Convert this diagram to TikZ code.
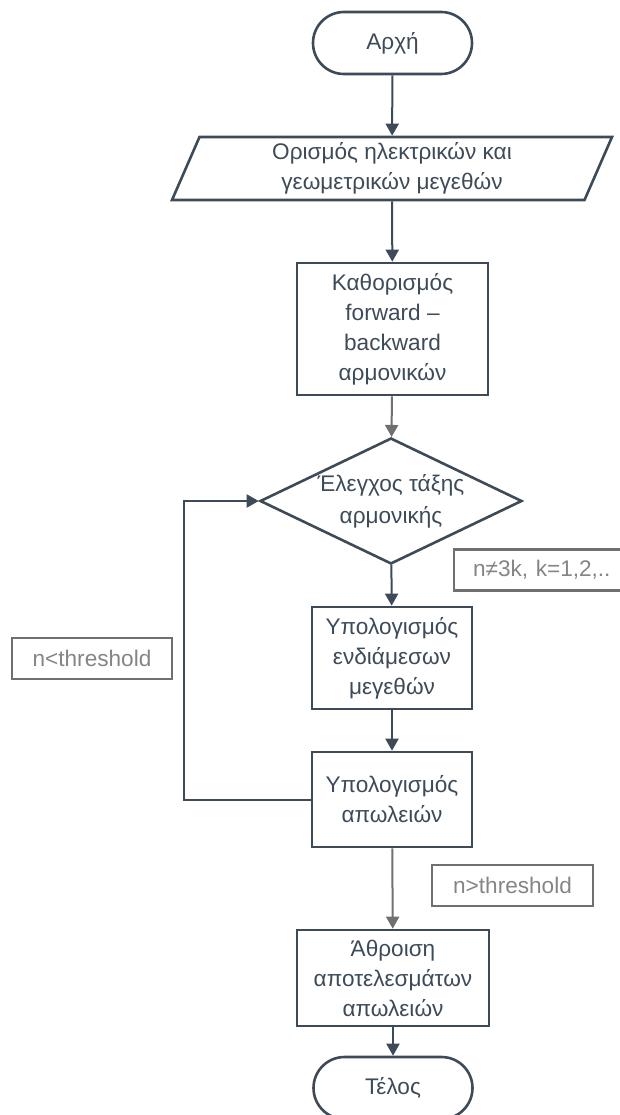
\documentclass[tikz,border=0pt]{standalone}
\usepackage{fontspec}
\setmainfont{Liberation Sans}
\usetikzlibrary{shapes.geometric,arrows.meta}
\definecolor{slate}{HTML}{3D4A57}
\definecolor{greyline}{HTML}{707070}
\definecolor{greytext}{HTML}{858585}

\begin{document}
\begin{tikzpicture}[x=1pt,y=-1pt,
  base/.style={draw=slate,line width=2.6pt,text=slate,align=center,font=\fontsize{22.6}{30}\selectfont},
  term/.style={base,rounded corners=31pt,minimum width=159pt,minimum height=62pt},
  io/.style={base,trapezium,trapezium left angle=62,trapezium right angle=118,trapezium stretches body,minimum width=440pt,minimum height=63pt,inner sep=0pt},
  proc/.style={base,inner sep=2pt},
  cond/.style={base,diamond,aspect=2.08,inner sep=0pt,minimum width=262pt,minimum height=126pt},
  tag/.style={draw=greyline,line width=2.2pt,text=greytext,minimum height=41pt,font=\fontsize{22.6}{30}\selectfont},
  flow/.style={draw=slate,line width=2pt,-{Triangle[length=12pt,width=13pt]}},
  flowg/.style={flow,draw=greyline}]
  \useasboundingbox (0,0) rectangle (619,1115);
  \node[term] (start) at (392.5,43) {Αρχή};
  \node[io] (input) at (392,168.5) {Ορισμός ηλεκτρικών και\\γεωμετρικών μεγεθών};
  \node[proc,minimum width=191pt,minimum height=132pt] (harm) at (392.5,329) {Καθορισμός\\forward –\\backward\\αρμονικών};
  \node[cond,font=\fontsize{22.6}{32}\selectfont] (check) at (391,501) {Έλεγχος τάξης\\αρμονικής};
  \node[proc,minimum width=160pt,minimum height=102pt] (inter) at (392,658) {Υπολογισμός\\ενδιάμεσων\\μεγεθών};
  \node[proc,minimum width=160pt,minimum height=95pt] (loss) at (392,799.5) {Υπολογισμός\\απωλειών};
  \node[proc,minimum width=192pt,minimum height=96pt] (total) at (393,978) {Άθροιση\\αποτελεσμάτων\\απωλειών};
  \node[term] (stop) at (393,1088) {Τέλος};
  \node[tag,anchor=west,inner xsep=19pt,text width=155pt,align=left] (lblmod) at (453,570) {n≠3k, k=1,2,..};
  \node[tag,minimum width=160pt] (lbllow) at (92,658.5) {n<threshold};
  \node[tag,minimum width=161pt] (lblhigh) at (512.5,885.5) {n>threshold};
  \coordinate (back) at (184,799.5);
  \draw[flow] (start) -- (input);
  \draw[flow] (input) -- (harm);
  \draw[flowg] (harm) -- (check);
  \draw[flow] (check) -- (inter);
  \draw[flow] (inter) -- (loss);
  \draw[flow] (loss.west) -- (back) |- (check.west);
  \draw[flowg] (loss) -- (total);
  \draw[flow] (total) -- (stop);
\end{tikzpicture}
\end{document}
